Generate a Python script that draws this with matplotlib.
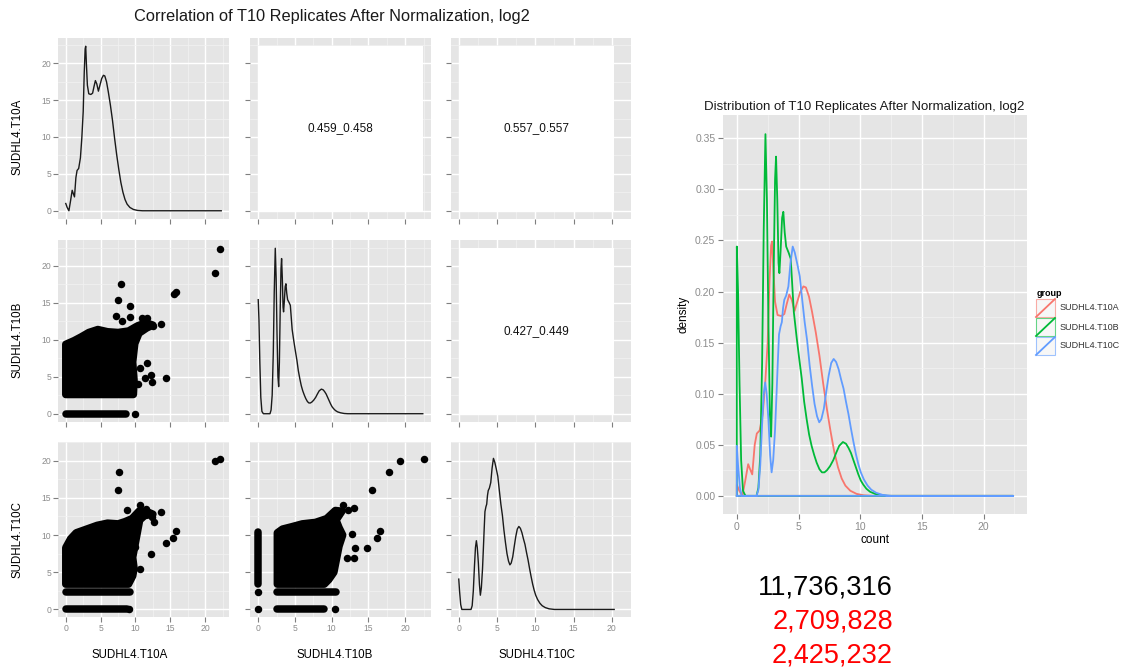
import numpy as np
import matplotlib.pyplot as plt
from matplotlib.patches import Polygon, Rectangle

W, H = 1123, 670
plt.rcParams['font.family'] = ['Liberation Sans', 'DejaVu Sans']

# ---------------- data ----------------
samples = ['SUDHL4.T10A', 'SUDHL4.T10B', 'SUDHL4.T10C']
sample_max = [22.3, 22.4, 20.3]
group_colors = ['#F8766D', '#00BA38', '#619CFF']
corr_text = {(0, 1): '0.459_0.458', (0, 2): '0.557_0.557', (1, 2): '0.427_0.449'}
counts = ['11,736,316', '2,709,828', '2,425,232']
count_colors = ['black', 'red', 'red']

# density curves (x, density)
dens_a = [(0, 0.011), (0.2, 0.005), (0.45, 0.0), (0.7, 0.016), (0.92, 0.031), (1.08, 0.026),
          (1.25, 0.021), (1.45, 0.050), (1.62, 0.061), (1.85, 0.064), (2.1, 0.08), (2.3, 0.11),
          (2.5, 0.15), (2.65, 0.21), (2.78, 0.245), (2.86, 0.249), (2.96, 0.222), (3.1, 0.19),
          (3.3, 0.177), (3.6, 0.176), (3.85, 0.178), (4.05, 0.188), (4.25, 0.197), (4.45, 0.192),
          (4.68, 0.181), (4.9, 0.19), (5.15, 0.2), (5.4, 0.205), (5.6, 0.204), (5.85, 0.195),
          (6.1, 0.18), (6.4, 0.16), (6.7, 0.137), (7.0, 0.11), (7.3, 0.085), (7.6, 0.063),
          (7.9, 0.043), (8.2, 0.028), (8.5, 0.017), (8.8, 0.010), (9.2, 0.005), (9.7, 0.002),
          (10.3, 0.0005), (11.0, 0.0), (22.4, 0.0)]
dens_b = [(0, 0.244), (0.1, 0.2), (0.22, 0.11), (0.35, 0.035), (0.5, 0.005), (0.7, 0), (1.6, 0),
          (1.75, 0.008), (1.9, 0.04), (2.05, 0.13), (2.18, 0.26), (2.32, 0.354), (2.44, 0.29),
          (2.56, 0.17), (2.68, 0.08), (2.78, 0.058), (2.88, 0.11), (3.0, 0.23), (3.1, 0.31),
          (3.18, 0.332), (3.28, 0.29), (3.38, 0.228), (3.45, 0.218), (3.55, 0.24), (3.67, 0.272),
          (3.77, 0.278), (3.88, 0.258), (4.0, 0.244), (4.2, 0.238), (4.37, 0.232), (4.5, 0.205),
          (4.62, 0.18), (4.85, 0.155), (5.05, 0.135), (5.26, 0.115), (5.46, 0.092), (5.66, 0.075),
          (5.86, 0.06), (6.06, 0.049), (6.27, 0.04), (6.47, 0.0325), (6.7, 0.026), (6.9, 0.023),
          (7.1, 0.023), (7.3, 0.025), (7.55, 0.029), (7.82, 0.035), (8.05, 0.042), (8.3, 0.049),
          (8.6, 0.0527), (8.85, 0.051), (9.05, 0.047), (9.25, 0.042), (9.45, 0.035), (9.65, 0.028),
          (9.85, 0.021), (10.05, 0.015), (10.25, 0.011), (10.5, 0.007), (10.8, 0.004), (11.2, 0.002),
          (11.7, 0.0005), (12.2, 0), (22.4, 0)]
dens_c = [(0, 0.049), (0.1, 0.03), (0.25, 0.008), (0.4, 0), (1.6, 0), (1.75, 0.006), (1.9, 0.03),
          (2.05, 0.07), (2.18, 0.1), (2.3, 0.111), (2.42, 0.1), (2.56, 0.075), (2.7, 0.04),
          (2.82, 0.023), (2.95, 0.035), (3.1, 0.065), (3.22, 0.1), (3.32, 0.13), (3.42, 0.158),
          (3.55, 0.166), (3.65, 0.17), (3.75, 0.184), (3.85, 0.192), (4.0, 0.196), (4.18, 0.205),
          (4.35, 0.228), (4.53, 0.244), (4.7, 0.238), (4.9, 0.227), (5.1, 0.215), (5.3, 0.192),
          (5.5, 0.17), (5.7, 0.152), (5.9, 0.128), (6.1, 0.108), (6.3, 0.09), (6.5, 0.078),
          (6.68, 0.072), (6.85, 0.075), (7.05, 0.085), (7.25, 0.102), (7.45, 0.118), (7.65, 0.13),
          (7.85, 0.134), (8.05, 0.131), (8.25, 0.124), (8.45, 0.114), (8.65, 0.105), (8.85, 0.092),
          (9.05, 0.08), (9.25, 0.066), (9.45, 0.053), (9.65, 0.041), (9.85, 0.031), (10.05, 0.023),
          (10.3, 0.016), (10.6, 0.01), (10.9, 0.006), (11.3, 0.003), (11.8, 0.001), (12.5, 0),
          (22.4, 0)]
densities = [dens_a, dens_b, dens_c]

# scatter panels: outline of the dense cloud, horizontal runs of points, single points
blob_ab = [(0.0, 2.6), (9.7, 2.6), (9.8, 4.5), (9.6, 7.0), (9.9, 9.5), (10.5, 10.9), (11.6, 11.6),
           (12.5, 12.0), (11.5, 12.3), (10.3, 11.9), (9.0, 11.2), (7.5, 11.0), (6.0, 11.1),
           (4.6, 11.4), (3.3, 11.0), (2.2, 10.4), (1.2, 9.9), (0.0, 9.4)]
runs_ab = [(0.0, 8.6, 0.0)]
pts_ab = [(7.9, 17.6), (7.5, 15.4), (9.2, 14.6), (7.2, 13.2), (8.1, 12.6), (9.2, 13.1), (15.5, 16.2),
          (15.8, 16.5), (21.4, 19.1), (22.1, 22.3), (10.7, 6.2), (11.7, 6.8), (11.3, 4.9), (12.2, 5.3),
          (12.3, 4.3), (14.4, 4.9), (13.6, 12.2), (12.5, 11.9), (11.0, 12.9), (11.7, 12.9), (10.4, 4.0),
          (10.0, 0.0)]

blob_ac = [(0.0, 3.4), (9.0, 3.4), (9.6, 4.5), (9.8, 5.5), (9.6, 7.0), (10.0, 9.0), (10.3, 10.5),
           (10.6, 12.0), (11.3, 12.6), (12.5, 12.8), (11.5, 13.2), (10.5, 13.2), (9.5, 12.2),
           (8.5, 11.8), (7.5, 11.5), (6.0, 11.6), (4.5, 11.3), (3.0, 10.8), (1.5, 10.3), (0.7, 9.5),
           (0.0, 8.3)]
runs_ac = [(0.0, 9.2, 2.3), (0.0, 8.8, 0.0)]
pts_ac = [(7.7, 18.5), (7.5, 16.0), (8.8, 13.4), (10.7, 14.0), (13.6, 13.1), (12.3, 12.4), (12.6, 11.8),
          (15.8, 10.6), (15.4, 9.6), (14.4, 8.9), (12.2, 7.5), (10.7, 5.4), (21.4, 19.9), (22.1, 20.2),
          (10.0, 8.4), (11.5, 13.5), (9.1, 0.0)]

blob_bc = [(2.6, 3.4), (9.0, 3.4), (9.6, 4.0), (10.3, 5.0), (10.6, 6.5), (11.0, 8.5), (11.5, 10.0),
           (11.0, 11.0), (10.6, 12.0), (11.4, 13.2), (10.5, 13.3), (9.3, 12.2), (7.8, 11.7),
           (6.0, 11.5), (4.5, 11.1), (3.3, 10.8), (2.6, 10.3)]
runs_bc = [(2.6, 10.6, 2.3), (2.6, 8.9, 0.0)]
cols_bc = [(0.0, 3.4, 10.4)]
pts_bc = [(17.8, 18.5), (19.3, 19.9), (22.5, 20.2), (15.5, 16.0), (16.2, 9.6), (16.6, 10.6), (14.8, 8.3),
          (13.2, 8.3), (13.1, 6.9), (12.1, 6.9), (12.8, 10.2), (12.2, 13.4), (13.0, 13.6), (11.6, 14.0),
          (10.4, 0.0), (0.0, 2.3), (0.0, 0.0)]

scatter_panels = {
    (1, 0): (blob_ab, runs_ab, [], pts_ab),
    (2, 0): (blob_ac, runs_ac, [], pts_ac),
    (2, 1): (blob_bc, runs_bc, cols_bc, pts_bc),
}

# ---------------- layout (pixels) ----------------
col_edges = [(58, 229), (250, 431), (451, 631)]
row_edges = [(38, 219), (240, 422), (442, 617)]

fig = plt.figure(figsize=(W / 100, H / 100), dpi=100)


def px_axes(l, t, r, b):
    return fig.add_axes([l / W, 1 - b / H, (r - l) / W, (b - t) / H])


def gg_panel(ax, xlim, ylim, xticks, yticks, xminor, yminor, show_x, show_y, size=6.2):
    ax.set_facecolor('#E5E5E5')
    ax.set_xlim(*xlim)
    ax.set_ylim(*ylim)
    ax.set_xticks(xticks)
    ax.set_yticks(yticks)
    ax.set_xticks(xminor, minor=True)
    ax.set_yticks(yminor, minor=True)
    ax.grid(which='major', color='white', lw=1.0)
    ax.grid(which='minor', color='#F2F2F2', lw=0.5)
    ax.set_axisbelow(True)
    for s in ax.spines.values():
        s.set_visible(False)
    ax.tick_params(which='major', length=3.5, width=0.8, color='#7F7F7F', labelcolor='#8C8C8C',
                   labelsize=size, pad=1.5, labelbottom=show_x, labelleft=show_y)
    ax.tick_params(which='minor', length=0)


marker_d = 5.4  # points
for i in range(3):
    for j in range(3):
        l, r = col_edges[j]
        t, b = row_edges[i]
        ax = px_axes(l, t, r, b)
        xm, ym = sample_max[j], sample_max[i]
        xt = [v for v in range(0, 25, 5) if v <= xm]
        yt = [v for v in range(0, 25, 5) if v <= ym]
        gg_panel(ax, (-0.05 * xm, 1.05 * xm), (-0.05 * ym, 1.05 * ym), xt, yt,
                 [v + 2.5 for v in xt], [v + 2.5 for v in yt], i == 2, j == 0)
        if i == j:
            dx, dd = np.array(densities[i]).T
            keep = dx <= xm
            dx = np.r_[dx[keep], xm]
            dd = np.r_[dd[keep], 0.0]
            ax.plot(dx, dd / max(dd) * ym, color='#1a1a1a', lw=1.0)
        elif i < j:
            ax.add_patch(Rectangle((0, 0), xm, ym, facecolor='white', edgecolor='none', zorder=2))
            ax.text(xm / 2, ym / 2, corr_text[(i, j)], ha='center', va='center', fontsize=8.5,
                    color='#111111', zorder=3)
        else:
            blob, runs, cols, pts = scatter_panels[(i, j)]
            ax.add_patch(Polygon(blob, closed=True, facecolor='black', edgecolor='black',
                                 lw=marker_d, joinstyle='round', zorder=3))
            for x0, x1, y0 in runs:
                ax.plot([x0, x1], [y0, y0], color='black', lw=marker_d, solid_capstyle='round', zorder=3)
            for x0, y0, y1 in cols:
                ax.plot([x0, x0], [y0, y1], color='black', lw=marker_d, solid_capstyle='round', zorder=3)
            px_, py_ = np.array(pts).T
            ax.scatter(px_, py_, s=marker_d ** 2, color='black', linewidths=0, zorder=3)

# ---------------- right density plot ----------------
ax = px_axes(723, 115, 1027, 514)
dmax = 0.355
gg_panel(ax, (-0.05 * 22.4, 1.05 * 22.4), (-0.05 * dmax, 1.05 * dmax),
         [0, 5, 10, 15, 20], np.arange(0, 0.36, 0.05), [2.5, 7.5, 12.5, 17.5, 22.5],
         np.arange(0.025, 0.36, 0.05), True, True, size=7.5)
ax.set_yticklabels([f'{v:.2f}' for v in np.arange(0, 0.36, 0.05)])
ax.tick_params(pad=2)
for dens, c in zip(densities, group_colors):
    dx, dd = np.array(dens).T
    ax.plot(np.r_[dx[0], dx, dx[0]], np.r_[0, dd, 0], color=c, lw=1.3)
ax.set_xlabel('count', fontsize=8.5, labelpad=2)
ax.set_ylabel('density', fontsize=8.5, labelpad=4)

# ---------------- texts, legend, counts ----------------
ov = fig.add_axes([0, 0, 1, 1])
ov.set_xlim(0, W)
ov.set_ylim(H, 0)
ov.axis('off')
ov.patch.set_alpha(0)

ov.text(332, 17, 'Correlation of T10 Replicates After Normalization, log2', ha='center', va='center',
        fontsize=11.8, color='#1a1a1a')
ov.text(864, 107, 'Distribution of T10 Replicates After Normalization, log2', ha='center', va='center',
        fontsize=9.5, color='#1a1a1a')
for k, (yc, xc) in enumerate(zip([137, 340, 540], [130, 335, 537])):
    ov.text(18, yc, samples[k], rotation=90, ha='center', va='center', fontsize=8.3)
    ov.text(xc, 655, samples[k], ha='center', va='center', fontsize=8.3)

ov.text(1037, 293, 'group', ha='left', va='center', fontsize=6.5, fontweight='bold')
for k, (name, c) in enumerate(zip(samples, group_colors)):
    top = 299 + k * 19
    ov.add_patch(Rectangle((1036, top), 19, 18, facecolor='#F2F2F2', edgecolor=c, lw=0.8, alpha=0.6))
    ov.plot([1036, 1055], [top + 18, top], color=c, lw=1.3)
    ov.text(1060, top + 9, name, ha='left', va='center', fontsize=6.5, color='#333333')

for k, (txt, c) in enumerate(zip(counts, count_colors)):
    ov.text(893, 594 + k * 34.5, txt, ha='right', va='baseline', fontsize=19.5, color=c)

fig.savefig('out.png', dpi=100)
